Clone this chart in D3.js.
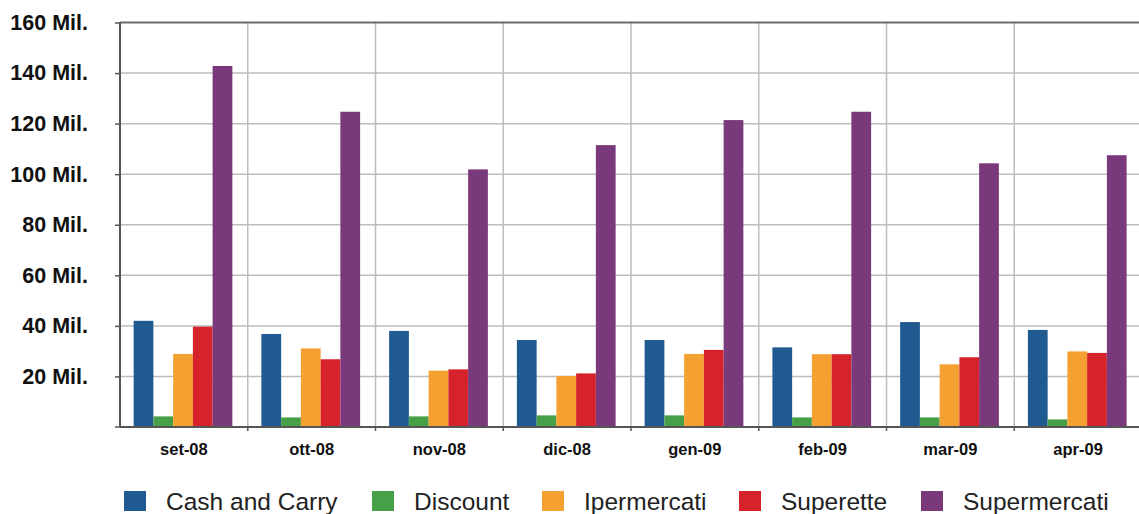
<!DOCTYPE html>
<html>
<head>
<meta charset="utf-8">
<script src="https://cdn.jsdelivr.net/npm/d3@7"></script>
<style>
  html, body { margin: 0; padding: 0; background: #fff; }
  svg { display: block; }
</style>
</head>
<body>
<svg id="chart" width="1139" height="514"></svg>
<script>
const categories = ["set-08", "ott-08", "nov-08", "dic-08", "gen-09", "feb-09", "mar-09", "apr-09"];
const seriesNames = ["Cash and Carry", "Discount", "Ipermercati", "Superette", "Supermercati"];
const cashAndCarry = [42.0, 36.8, 38.0, 34.4, 34.4, 31.5, 41.5, 38.4];
const discount     = [4.2, 3.8, 4.2, 4.6, 4.6, 3.8, 3.8, 3.0];
const ipermercati  = [28.9, 31.1, 22.3, 20.2, 28.9, 28.8, 24.8, 29.9];
const superette    = [39.7, 26.8, 22.8, 21.2, 30.5, 28.8, 27.6, 29.3];
const supermercati = [142.8, 124.7, 101.9, 111.5, 121.4, 124.7, 104.3, 107.5];
const seriesValues = [cashAndCarry, discount, ipermercati, superette, supermercati];
const colors = ["#1f5a90", "#47a047", "#f5a132", "#d6232b", "#7a397b"];
const yTicks = [20, 40, 60, 80, 100, 120, 140, 160];
const yTickLabels = ["20 Mil.", "40 Mil.", "60 Mil.", "80 Mil.", "100 Mil.", "120 Mil.", "140 Mil.", "160 Mil."];

(function () {
const svg = d3.select("#chart");
const pLeft = 120, pRight = 1142, pTop = 22.5, pBottom = 427;

const x0 = d3.scaleBand().domain(categories).range([pLeft, pRight]).padding(0);
const x1 = d3.scaleBand().domain(seriesNames).range([0, x0.bandwidth()])
  .paddingInner(0).paddingOuter(0.735).align(0.47);
const y = d3.scaleLinear().domain([0, 160]).range([pBottom, pTop]);

// horizontal grid lines
svg.append("g").selectAll("line").data(yTicks.slice(0, -1)).join("line")
  .attr("x1", pLeft).attr("x2", pRight)
  .attr("y1", d => y(d)).attr("y2", d => y(d))
  .attr("stroke", "#bdbdbd").attr("stroke-width", 1.5);

// vertical grid lines at category boundaries
svg.append("g").selectAll("line").data(categories.slice(1)).join("line")
  .attr("x1", d => x0(d)).attr("x2", d => x0(d))
  .attr("y1", pTop).attr("y2", pBottom)
  .attr("stroke", "#bdbdbd").attr("stroke-width", 1.5);

// top border
svg.append("line").attr("x1", pLeft).attr("x2", pRight)
  .attr("y1", y(160)).attr("y2", y(160))
  .attr("stroke", "#6a6a6a").attr("stroke-width", 1.8);

// bars
const groups = svg.append("g").selectAll("g").data(categories).join("g")
  .attr("transform", d => `translate(${x0(d)},0)`);
groups.selectAll("rect")
  .data((c, i) => seriesNames.map((s, k) => ({ s, k, v: seriesValues[k][i] })))
  .join("rect")
  .attr("x", d => x1(d.s))
  .attr("width", x1.bandwidth())
  .attr("y", d => y(d.v))
  .attr("height", d => y(0) - y(d.v))
  .attr("fill", d => colors[d.k]);

// y axis
const yAxis = d3.axisLeft(y).tickValues(yTicks)
  .tickFormat((d, i) => yTickLabels[i]).tickSize(5).tickPadding(27);
const gy = svg.append("g").attr("transform", `translate(${pLeft},0)`).call(yAxis);
gy.select(".domain").attr("stroke", "#555").attr("stroke-width", 2)
  .attr("d", `M0,${pTop}V${pBottom}`);
gy.selectAll(".tick line").attr("stroke", "#555").attr("stroke-width", 1.5);
gy.selectAll(".tick text")
  .attr("font-family", "Liberation Sans, Arial, sans-serif")
  .attr("font-weight", "bold").attr("font-size", "21.5px").attr("fill", "#111");
svg.append("line").attr("x1", pLeft - 5).attr("x2", pLeft).attr("y1", y(0)).attr("y2", y(0))
  .attr("stroke", "#555").attr("stroke-width", 1.5);

// x axis
const xAxis = d3.axisBottom(x0).tickSize(0).tickPadding(16);
const gx = svg.append("g").attr("transform", `translate(0,${pBottom})`).call(xAxis);
gx.select(".domain").attr("stroke", "#555").attr("stroke-width", 2)
  .attr("d", `M${pLeft},0H${pRight}`);
gx.selectAll(".tick text")
  .attr("font-family", "Liberation Sans, Arial, sans-serif")
  .attr("font-weight", "bold").attr("font-size", "16.5px").attr("fill", "#111");
svg.append("g").selectAll("line").data(categories.slice(1)).join("line")
  .attr("x1", d => x0(d)).attr("x2", d => x0(d))
  .attr("y1", pBottom).attr("y2", pBottom + 4)
  .attr("stroke", "#555").attr("stroke-width", 1.5);

// legend
const legendX = [124, 372, 542, 739, 921];
const leg = svg.append("g").selectAll("g").data(seriesNames).join("g")
  .attr("transform", (d, i) => `translate(${legendX[i]},491)`);
leg.append("rect").attr("width", 22).attr("height", 20).attr("fill", (d, i) => colors[i]);
leg.append("text").attr("x", 42).attr("y", 10).attr("dy", "0.36em")
  .attr("font-family", "Liberation Sans, Arial, sans-serif")
  .attr("font-size", "24.5px").attr("fill", "#222")
  .text(d => d);
})();
</script>
</body>
</html>
